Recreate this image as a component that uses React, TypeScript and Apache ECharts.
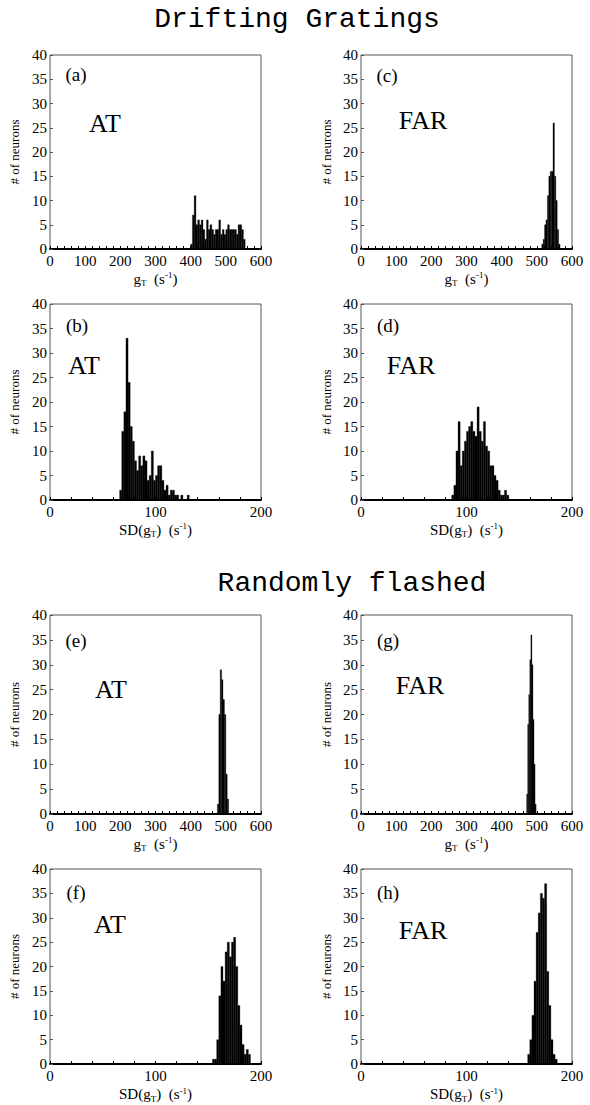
import React, { useEffect, useRef } from "react";
import * as echarts from "echarts";

// ---- Data (histogram bins: start, bin width, counts) ----
const aStart = 400, aBin = 5;
const aCounts = [1, 7, 11, 5, 6, 5, 6, 4, 2, 6, 4, 5, 4, 3, 4, 4, 6, 3, 4, 3, 4, 5, 4, 4, 4, 4, 3, 5, 5, 4, 2];
const cStart = 514, cBin = 4;
const cCounts = [1, 2, 5, 6, 11, 15, 16, 16, 26, 15, 10, 4, 1];
const bStart = 66, bBin = 2;
const bCounts = [2, 14, 18, 33, 24, 15, 12, 8, 6, 9, 7, 9, 8, 4, 5, 10, 4, 5, 7, 7, 4, 2, 3, 1, 2, 2, 1, 1, 0, 1, 0, 0, 1];
const dStart = 86, dBin = 2;
const dCounts = [1, 3, 10, 16, 7, 10, 12, 14, 15, 16, 14, 13, 19, 14, 12, 16, 11, 10, 7, 7, 5, 4, 2, 1, 1, 2, 1];
const eStart = 476, eBin = 4;
const eCounts = [2, 20, 29, 27, 23, 20, 8, 3];
const gStart = 471, gBin = 3;
const gCounts = [4, 18, 24, 31, 36, 30, 19, 10, 2];
const fStart = 154, fBin = 2;
const fCounts = [1, 1, 5, 14, 20, 17, 23, 25, 22, 25, 26, 20, 12, 8, 4, 2, 3, 2];
const hStart = 158, hBin = 2;
const hCounts = [2, 5, 10, 17, 27, 31, 35, 34, 37, 19, 12, 5, 2, 1];

const yTicksMax = 40;
const yTickStep = 5;
const xMaxG = 600;
const xMaxSD = 200;
const xTickStep = 20;
const xLabelStep = 100;

const titles = ["Drifting Gratings", "Randomly flashed"];

const SERIF = '"Liberation Serif", "Times New Roman", serif';
const MONO = '"Liberation Mono", "Courier New", monospace';

type Panel = {
  letter: string;
  model: string;
  start: number;
  bin: number;
  counts: number[];
  kind: "g" | "sd";
  left: number;
  top: number;
  height: number;
  letterPos: [number, number];
  modelPos: [number, number];
  nameGapY: number;
};

const W = 211;

const panels: Panel[] = [
  { letter: "(a)", model: "AT", start: aStart, bin: aBin, counts: aCounts, kind: "g", left: 50, top: 55, height: 194, letterPos: [76, 74], modelPos: [105, 123], nameGapY: 29 },
  { letter: "(c)", model: "FAR", start: cStart, bin: cBin, counts: cCounts, kind: "g", left: 361, top: 55, height: 194, letterPos: [387, 75], modelPos: [423, 120], nameGapY: 28 },
  { letter: "(b)", model: "AT", start: bStart, bin: bBin, counts: bCounts, kind: "sd", left: 50, top: 304, height: 196, letterPos: [77, 325], modelPos: [84, 365], nameGapY: 29 },
  { letter: "(d)", model: "FAR", start: dStart, bin: dBin, counts: dCounts, kind: "sd", left: 361, top: 304, height: 196, letterPos: [388, 325], modelPos: [411, 365], nameGapY: 28 },
  { letter: "(e)", model: "AT", start: eStart, bin: eBin, counts: eCounts, kind: "g", left: 50, top: 615, height: 199, letterPos: [76, 640], modelPos: [111, 689], nameGapY: 29 },
  { letter: "(g)", model: "FAR", start: gStart, bin: gBin, counts: gCounts, kind: "g", left: 361, top: 615, height: 199, letterPos: [388, 640], modelPos: [420, 685], nameGapY: 28 },
  { letter: "(f)", model: "AT", start: fStart, bin: fBin, counts: fCounts, kind: "sd", left: 50, top: 869, height: 197, letterPos: [76, 892], modelPos: [110, 924], nameGapY: 29 },
  { letter: "(h)", model: "FAR", start: hStart, bin: hBin, counts: hCounts, kind: "sd", left: 361, top: 869, height: 197, letterPos: [388, 892], modelPos: [423, 930], nameGapY: 28 },
];

const rich = {
  n: { fontFamily: SERIF, fontSize: 15, color: "#000", lineHeight: 20, verticalAlign: "middle" },
  sub: { fontFamily: SERIF, fontSize: 9, color: "#000", lineHeight: 20, verticalAlign: "bottom", padding: [0, 0, 1, 0] },
  sup: { fontFamily: SERIF, fontSize: 9, color: "#000", lineHeight: 20, verticalAlign: "top", padding: [2, 0, 0, 0] },
};

export default function App() {
  const ref = useRef<HTMLDivElement>(null);
  useEffect(() => {
    if (!ref.current) return;
    const chart = echarts.init(ref.current, undefined, { renderer: "svg" });

    const grid = panels.map((p) => ({
      left: p.left,
      top: p.top,
      width: W,
      height: p.height,
      show: true,
      borderColor: "#555",
      borderWidth: 1,
      backgroundColor: "transparent",
      containLabel: false,
    }));

    const xAxis = panels.map((p, i) => ({
      type: "value",
      gridIndex: i,
      min: 0,
      max: p.kind === "g" ? xMaxG : xMaxSD,
      interval: xTickStep,
      offset: 3,
      name: p.kind === "g" ? "{n|g}{sub|T}{n|  (s}{sup|-1}{n|)}" : "{n|SD(g}{sub|T}{n|)  (s}{sup|-1}{n|)}",
      nameLocation: "middle",
      nameGap: 14,
      nameTextStyle: { rich },
      axisLine: { show: true, lineStyle: { color: "#000", width: 2 } },
      axisTick: { show: true, inside: true, length: 3, lineStyle: { color: "#000", width: 1 } },
      axisLabel: {
        show: true,
        margin: 1,
        fontFamily: SERIF,
        fontSize: 15,
        color: "#000",
        formatter: (v: number) => (Math.round(v) % xLabelStep === 0 ? String(Math.round(v)) : ""),
      },
      splitLine: { show: false },
    }));

    const yAxis = panels.map((p, i) => ({
      type: "value",
      gridIndex: i,
      min: 0,
      max: yTicksMax,
      interval: yTickStep,
      name: "# of neurons",
      nameLocation: "middle",
      nameRotate: 90,
      nameGap: p.nameGapY,
      nameTextStyle: { fontFamily: SERIF, fontSize: 13, color: "#000" },
      axisLine: { show: false },
      axisTick: { show: true, inside: true, length: 3, lineStyle: { color: "#555" } },
      axisLabel: { margin: 3, fontFamily: SERIF, fontSize: 15, color: "#000" },
      splitLine: { show: false },
    }));

    const series = panels.map((p, i) => ({
      type: "custom",
      xAxisIndex: i,
      yAxisIndex: i,
      data: p.counts.map((c, k) => [p.start + k * p.bin, p.start + (k + 1) * p.bin, c]),
      encode: { x: [0, 1], y: 2 },
      renderItem: (params: any, api: any) => {
        const x0 = api.value(0);
        const x1 = api.value(1);
        const v = api.value(2);
        if (!v) return null;
        const p0 = api.coord([x0, v]);
        const p1 = api.coord([x1, 0]);
        return {
          type: "rect",
          shape: { x: p0[0], y: p0[1], width: Math.max(p1[0] - p0[0], 0.8), height: p1[1] - p0[1] },
          style: { fill: "#000", stroke: "#000", lineWidth: 0.3 },
        };
      },
      silent: true,
    }));

    const graphic: any[] = [];
    graphic.push({
      type: "text",
      x: 297,
      y: 19,
      style: { text: titles[0], fill: "#000", font: `28px ${MONO}`, align: "center", verticalAlign: "middle" },
    });
    graphic.push({
      type: "text",
      x: 352,
      y: 583,
      style: { text: titles[1], fill: "#000", font: `28px ${MONO}`, align: "center", verticalAlign: "middle" },
    });
    panels.forEach((p) => {
      graphic.push({
        type: "text",
        x: p.letterPos[0],
        y: p.letterPos[1],
        style: { text: p.letter, fill: "#000", font: `19px ${SERIF}`, align: "center", verticalAlign: "middle" },
      });
      graphic.push({
        type: "text",
        x: p.modelPos[0],
        y: p.modelPos[1],
        style: { text: p.model, fill: "#000", font: `26px ${SERIF}`, align: "center", verticalAlign: "middle" },
      });
    });

    chart.setOption({
      animation: false,
      backgroundColor: "#fff",
      grid,
      xAxis,
      yAxis,
      series,
      graphic,
    } as any);
    return () => chart.dispose();
  }, []);
  return <div ref={ref} style={{ position: "absolute", left: 0, top: 0, width: 590, height: 1105 }} />;
}
